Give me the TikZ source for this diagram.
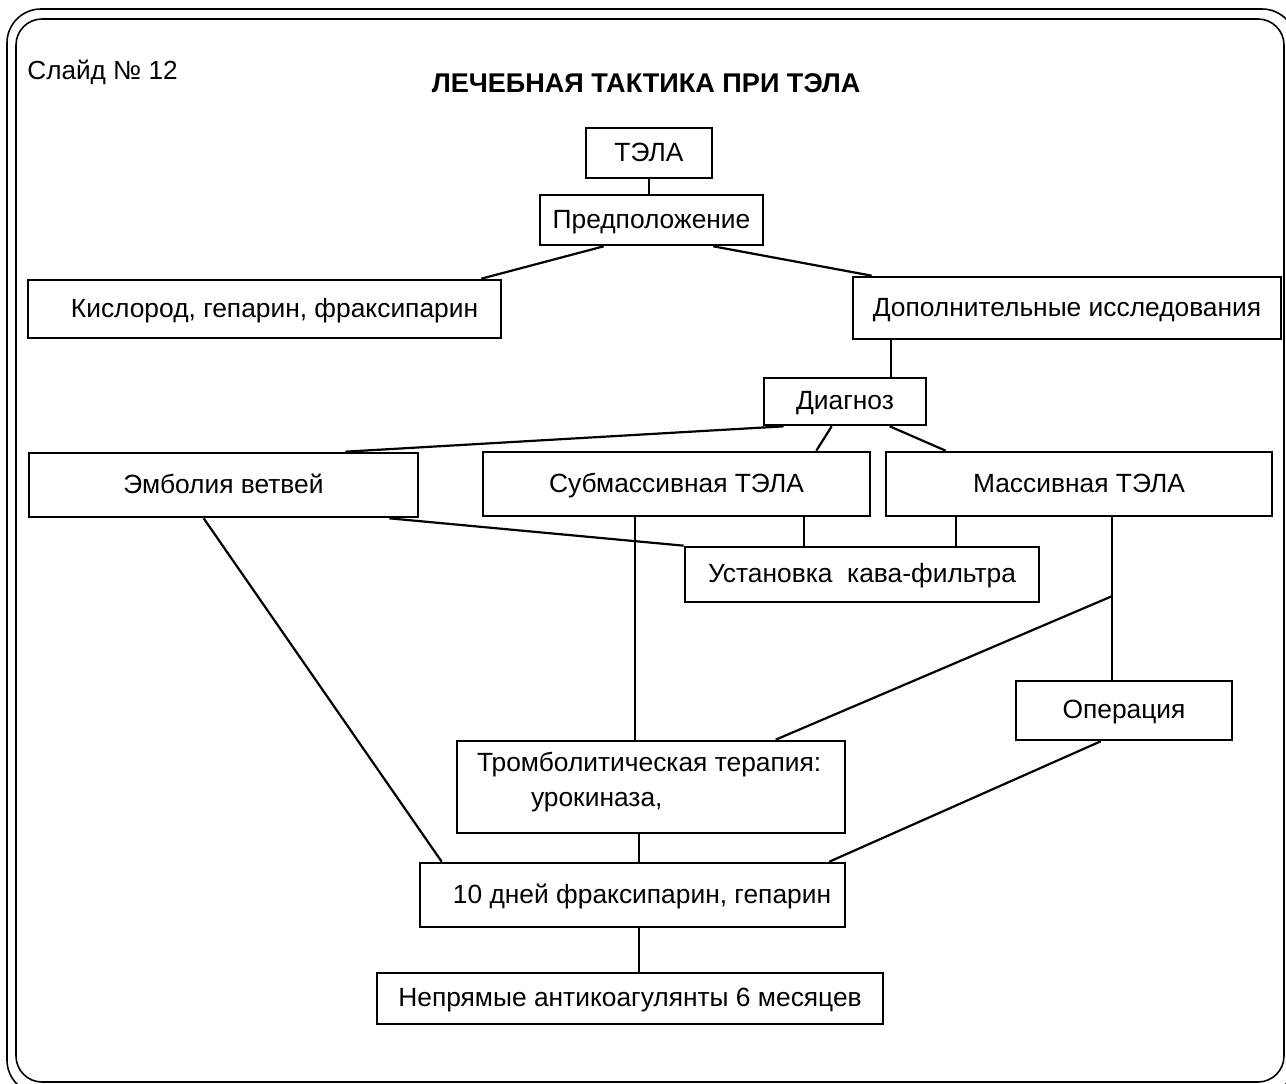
\documentclass[tikz,border=0pt]{standalone}
\usepackage{fontspec}
\setmainfont{Liberation Sans}
\usetikzlibrary{calc,positioning}

\begin{document}
\begin{tikzpicture}[
  x=0.2mm, y=-0.2mm,
  box/.style={draw, line width=1.5pt, inner sep=0pt,
              text height=0.95em, text depth=0pt,
              font=\fontsize{15}{18}\selectfont, align=center},
  link/.style={line width=1.25pt},
  frame/.style={line width=0.9pt},
]
  \useasboundingbox (0,0) rectangle (1286,1084);

  % Frame
  \begin{scope}
    \clip (0,0) rectangle (1286,1084);
    \draw[frame, rounded corners=6.8mm] (7,9) rectangle (1296,1094);
    \draw[frame, rounded corners=5.2mm] (16,19) rectangle (1284,1082);
  \end{scope}

  % Headings
  \node[anchor=base west, inner sep=0pt, font=\fontsize{14.9}{18}\selectfont]
    (slide) at (27,80) {Слайд № 12};
  \node[anchor=base, inner sep=0pt, font=\fontsize{15.4}{18}\selectfont\bfseries]
    (title) at (646,93) {ЛЕЧЕБНАЯ ТАКТИКА ПРИ ТЭЛА};

  % Top of the tree
  \node[box, minimum width=2.52cm, minimum height=1.0cm] (tela) at (649,153) {ТЭЛА};
  \node[box, minimum width=4.46cm, minimum height=1.0cm] (pred) at (651.5,220) {Предположение};
  \node[box, minimum width=9.46cm, minimum height=1.16cm] (kisl) at (264.5,309)
    {\hspace*{0.4cm}Кислород, гепарин, фраксипарин};
  \node[box, minimum width=8.56cm, minimum height=1.24cm] (dop) at (1067,308)
    {Дополнительные исследования};
  \node[box, minimum width=3.24cm, minimum height=0.94cm] (diag) at (845,401.5) {Диагноз};

  % Forms
  \node[box, minimum width=7.78cm, minimum height=1.28cm] (embol) at (223.5,485) {Эмболия ветвей};
  \node[box, minimum width=7.74cm, minimum height=1.28cm] (submas) at (676.5,484) {Субмассивная ТЭЛА};
  \node[box, minimum width=7.72cm, minimum height=1.28cm] (mas) at (1079,484) {Массивная ТЭЛА};
  \node[box, minimum width=7.08cm, minimum height=1.1cm] (kava) at (862,574.5)
    {Установка\ \ кава-фильтра};

  % Treatment
  \node[box, minimum width=4.32cm, minimum height=1.18cm] (oper) at (1124,710.5) {Операция};
  \node[box, minimum width=7.76cm, minimum height=1.84cm] (throm) at (651,787) {};
  \node[anchor=north west, inner sep=0pt, align=left,
        font=\fontsize{15}{20}\selectfont] (thromtxt) at ($(throm.north west)+(21,12)$)
    {Тромболитическая терапия:\\\hspace*{1.08cm}урокиназа,};
  \node[box, minimum width=8.5cm, minimum height=1.28cm] (ten) at (632.5,895)
    {\hspace*{0.38cm}10 дней фраксипарин, гепарин};
  \node[box, minimum width=10.12cm, minimum height=1.02cm] (nepr) at (630,998.5)
    {Непрямые антикоагулянты 6 месяцев};

  % Connectors
  \draw[link] (tela.south) -- (tela.south |- pred.north);
  \draw[link] ($(pred.south west)+(65,0)$) -- ($(kisl.north east)+(-21,0)$);
  \draw[link] ($(pred.south east)+(-51,0)$) -- ($(dop.north west)+(20,0)$);
  \draw[link] ($(dop.south west)+(39,0)$) coordinate (d1) -- (d1 |- diag.north);
  \draw[link] ($(diag.south west)+(21,0)$) -- ($(embol.north east)+(-74,0)$);
  \draw[link] ($(diag.south west)+(69,0)$) -- ($(submas.north east)+(-55,0)$);
  \draw[link] ($(diag.south west)+(127,0)$) -- ($(mas.north west)+(61,0)$);
  \draw[link] ($(submas.south west)+(322,0)$) coordinate (s1) -- (s1 |- kava.north);
  \draw[link] ($(mas.south west)+(71,0)$) coordinate (m1) -- (m1 |- kava.north);
  \draw[link] ($(embol.south east)+(-30,0)$) -- (kava.north west);
  \draw[link] ($(submas.south west)+(153,0)$) coordinate (s2) -- (s2 |- throm.north);
  \draw[link] ($(mas.south west)+(227,0)$) coordinate (m2) -- (m2 |- oper.north);
  \coordinate (mj) at ($(mas.south west)+(227,79)$);
  \draw[link] (mj) -- ($(throm.north west)+(320,0)$);
  \draw[link] ($(embol.south west)+(176,0)$) -- ($(ten.north west)+(23,0)$);
  \draw[link] ($(oper.south west)+(86,0)$) -- ($(ten.north east)+(-17,0)$);
  \draw[link] ($(throm.south west)+(183,0)$) coordinate (t1) -- (t1 |- ten.north);
  \draw[link] ($(ten.south west)+(220,0)$) coordinate (t2) -- (t2 |- nepr.north);

\end{tikzpicture}
\end{document}
